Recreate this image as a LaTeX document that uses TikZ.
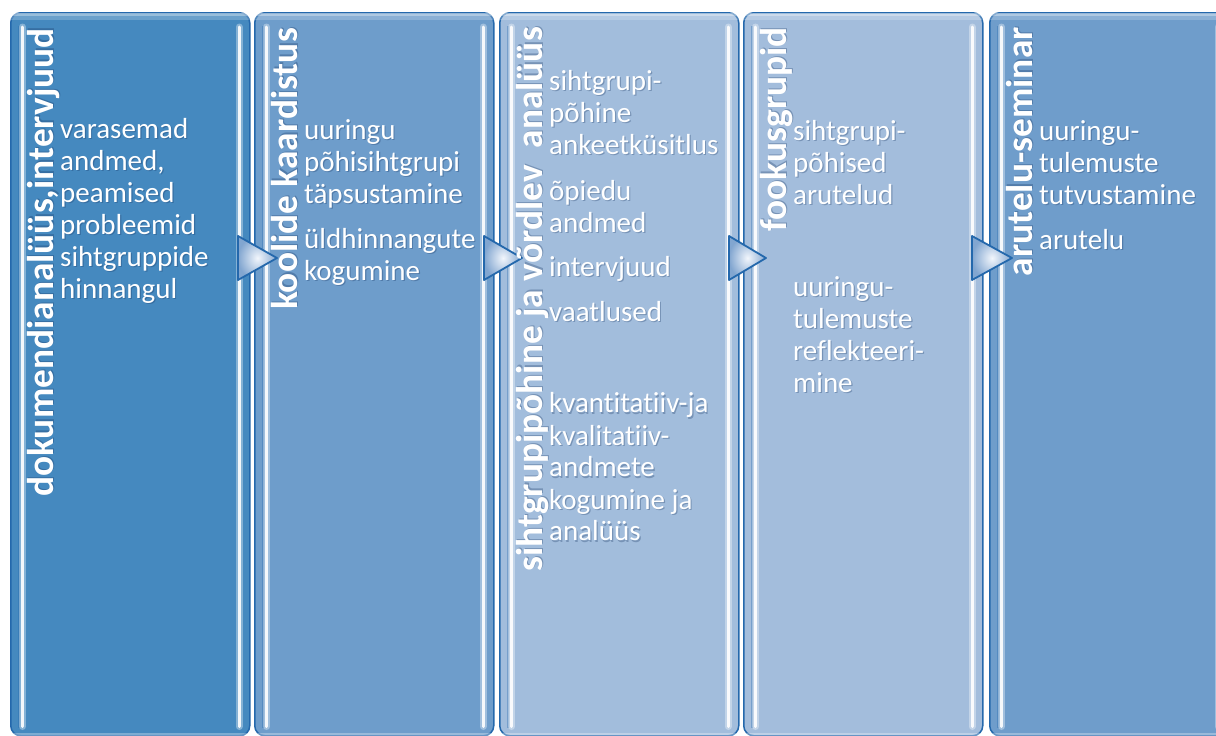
\documentclass[tikz,border=0pt]{standalone}
\usepackage{fontspec}
\setmainfont{Carlito}[Ligatures=NoCommon]
\definecolor{edgeblue}{RGB}{36,104,172}
\definecolor{fillA}{RGB}{69,137,191}
\definecolor{fillB}{RGB}{110,157,203}
\definecolor{fillC}{RGB}{162,189,220}
\definecolor{fillD}{RGB}{163,189,220}
\definecolor{fillE}{RGB}{111,157,203}
\definecolor{shadowblue}{RGB}{20,50,95}
\definecolor{arrowhi}{RGB}{242,246,252}
\definecolor{arrowlo}{RGB}{130,166,208}

% one step of the process: rounded box with glossy edges
\newcommand\stepcolumn[3]{% #1 name, #2 left x, #3 fill colour
  \node[colbox, fill=#3] (#1) at (#2,12) {};
  \begin{scope}
    \clip[rounded corners=10pt] (#1.north west) rectangle (#1.south east);
    \draw[white, opacity=0.45, line width=3pt] ([yshift=-2.5pt]#1.north west) -- ([yshift=-2.5pt]#1.north east);
    \draw[white, opacity=0.2, line width=4pt] ([yshift=-6pt]#1.north west) -- ([yshift=-6pt]#1.north east);
    \draw[white, opacity=0.3, line width=3pt] ([yshift=2.5pt]#1.south west) -- ([yshift=2.5pt]#1.south east);
  \end{scope}
  \draw[edgeblue, opacity=0.35, line width=2pt] ([xshift=9pt,yshift=-14pt]#1.north west) -- ([xshift=9pt,yshift=9pt]#1.south west);
  \draw[white, opacity=0.35, line width=7pt, line cap=round] ([xshift=12.5pt,yshift=-15pt]#1.north west) -- ([xshift=12.5pt,yshift=10pt]#1.south west);
  \draw[white, opacity=0.9, line width=3pt, line cap=round] ([xshift=12.5pt,yshift=-15pt]#1.north west) -- ([xshift=12.5pt,yshift=10pt]#1.south west);
  \draw[white, opacity=0.35, line width=7pt, line cap=round] ([xshift=-11.5pt,yshift=-15pt]#1.north east) -- ([xshift=-11.5pt,yshift=10pt]#1.south east);
  \draw[white, opacity=0.9, line width=3pt, line cap=round] ([xshift=-11.5pt,yshift=-15pt]#1.north east) -- ([xshift=-11.5pt,yshift=10pt]#1.south east);
}

% white text with a soft dark shadow beneath it
\newcommand\shadowed[4]{% #1 style, #2 name, #3 position, #4 text
  \node[#1, text=shadowblue, text opacity=0.3, xshift=1.2pt, yshift=-1.6pt] (#2-shadow) at #3 {#4};
  \node[#1] (#2) at #3 {#4};
}

% a stack of lines whose baseline is that of its first line
\newcommand\notestack[1]{\vtop{\baselineskip=32pt\lineskiplimit=-100pt #1}}
\newcommand\noteline[1]{\hbox{#1}}
\newcommand\notegap[1]{\vskip #1}

% arrow marker between two steps
\newcommand\steparrow[3]{% #1 name, #2 left x, #3 tip x
  \coordinate (#1-a) at (#2,236);
  \coordinate (#1-b) at (#3,258);
  \coordinate (#1-c) at (#2,280);
  \shade[inner color=arrowhi, outer color=arrowlo] (#1-a) -- (#1-b) -- (#1-c) -- cycle;
  \draw[edgeblue, line width=1.8pt, line join=round] (#1-a) -- (#1-b) -- (#1-c) -- cycle;
}

\tikzset{
  colbox/.style={draw=edgeblue, line width=1.5pt, rounded corners=10pt,
    minimum width=239pt, minimum height=723pt, inner sep=0pt, anchor=north west},
  steptitle/.style={rotate=90, anchor=base east, inner sep=0pt, text=white,
    font=\bfseries\fontsize{37.4}{40}\selectfont},
  notes/.style={anchor=base west, inner sep=0pt, text=white,
    font=\fontsize{29}{32}\selectfont}
}

\begin{document}
\begin{tikzpicture}[x=1pt, y=-1pt]
\useasboundingbox (0,0) rectangle (1216,736);
\clip (0,0) rectangle (1216,736);
\fill[white] (0,0) rectangle (1216,736);

\stepcolumn{colA}{10}{fillA}
\stepcolumn{colB}{254}{fillB}
\stepcolumn{colC}{499}{fillC}
\stepcolumn{colD}{743}{fillD}
\stepcolumn{colE}{989}{fillE}

\steparrow{arrAB}{238}{277}
\steparrow{arrBC}{484}{522}
\steparrow{arrCD}{729}{766}
\steparrow{arrDE}{972}{1012}

\shadowed{steptitle}{titleA}{(53,28)}{dokumendianalüüs,intervjuud}
\shadowed{steptitle}{titleB}{(297,28)}{koolide kaardistus}
\shadowed{steptitle}{titleC}{(542,27)}{sihtgrupipõhine ja võrdlev\ \ analüüs}
\shadowed{steptitle}{titleD}{(786,27)}{fookusgrupid}
\shadowed{steptitle}{titleE}{(1032,27)}{arutelu-seminar}

\shadowed{notes}{notesA}{(60,138)}{\notestack{%
  \noteline{varasemad}\noteline{andmed,}\noteline{peamised}%
  \noteline{probleemid}\noteline{sihtgruppide}\noteline{hinnangul}}}
\shadowed{notes}{notesB}{(304,139)}{\notestack{%
  \noteline{uuringu}\noteline{põhisihtgrupi}\noteline{täpsustamine}\notegap{13pt}%
  \noteline{üldhinnangute}\noteline{kogumine}}}
\shadowed{notes}{notesC}{(549,90)}{\notestack{%
  \noteline{sihtgrupi-}\noteline{põhine}\noteline{ankeetküsitlus}\notegap{14pt}%
  \noteline{õpiedu}\noteline{andmed}\notegap{12pt}%
  \noteline{intervjuud}\notegap{13pt}%
  \noteline{vaatlused}\notegap{60pt}%
  \noteline{kvantitatiiv-ja}\noteline{kvalitatiiv-}\noteline{andmete}%
  \noteline{kogumine ja}\noteline{analüüs}}}
\shadowed{notes}{notesD}{(793,140)}{\notestack{%
  \noteline{sihtgrupi-}\noteline{põhised}\noteline{arutelud}\notegap{60pt}%
  \noteline{uuringu-}\noteline{tulemuste}\noteline{reflekteeri-}\noteline{mine}}}
\shadowed{notes}{notesE}{(1039,140)}{\notestack{%
  \noteline{uuringu-}\noteline{tulemuste}\noteline{tutvustamine}\notegap{13pt}%
  \noteline{arutelu}}}
\end{tikzpicture}
\end{document}
